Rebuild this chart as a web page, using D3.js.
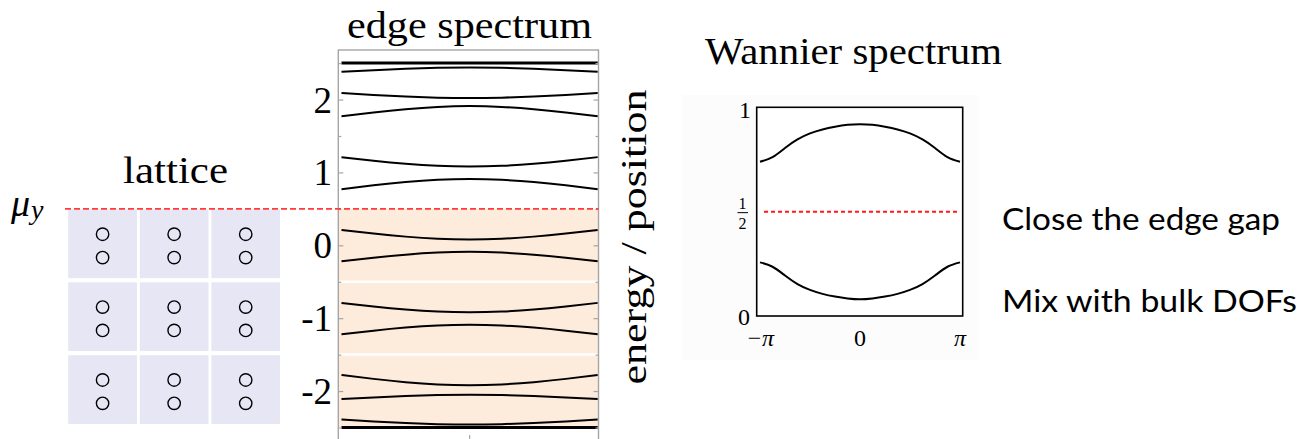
<!DOCTYPE html>
<html><head><meta charset="utf-8">
<script src="https://cdn.jsdelivr.net/npm/d3@7"></script>
<style>
html,body{margin:0;padding:0;background:#fff;}
svg{display:block;}
</style></head>
<body>
<svg id="chart" width="1301" height="439"></svg>
<script>
// ---------- data ----------
// momentum samples (k / pi) for edge spectrum
const kEdge = [-1, -0.75, -0.5, -0.25, 0, 0.25, 0.5, 0.75, 1];
const band1  = [2.50, 2.50, 2.50, 2.50, 2.50, 2.50, 2.50, 2.50, 2.50];
const band2  = [2.38, 2.403, 2.422, 2.435, 2.44, 2.435, 2.422, 2.403, 2.38];
const band3  = [2.09, 2.063, 2.041, 2.026, 2.02, 2.026, 2.041, 2.063, 2.09];
const band4  = [1.77, 1.823, 1.868, 1.899, 1.91, 1.899, 1.868, 1.823, 1.77];
const band5  = [1.21, 1.161, 1.119, 1.090, 1.08, 1.090, 1.119, 1.161, 1.21];
const band6  = [0.77, 0.823, 0.868, 0.899, 0.91, 0.899, 0.868, 0.823, 0.77];
const band7  = [0.21, 0.161, 0.119, 0.090, 0.08, 0.090, 0.119, 0.161, 0.21];
const band8  = [-0.22, -0.171, -0.129, -0.100, -0.09, -0.100, -0.129, -0.171, -0.22];
const band9  = [-0.79, -0.839, -0.881, -0.910, -0.92, -0.910, -0.881, -0.839, -0.79];
const band10 = [-1.22, -1.171, -1.129, -1.100, -1.09, -1.100, -1.129, -1.171, -1.22];
const band11 = [-1.78, -1.833, -1.878, -1.909, -1.92, -1.909, -1.878, -1.833, -1.78];
const band12 = [-2.11, -2.087, -2.068, -2.055, -2.05, -2.055, -2.068, -2.087, -2.11];
const band13 = [-2.39, -2.417, -2.439, -2.454, -2.46, -2.454, -2.439, -2.417, -2.39];
const band14 = [-2.50, -2.50, -2.50, -2.50, -2.50, -2.50, -2.50, -2.50, -2.50];
const edgeBands = [band1, band2, band3, band4, band5, band6, band7, band8, band9, band10, band11, band12, band13, band14];
const flatBands = [0, 13]; // indices drawn thicker
const edgeTickLabels = [2, 1, 0, -1, -2];
const muY = 0.5;               // chemical potential
const filledCells = [0, -1, -2]; // unit-cell centres below mu_y
const latticeCols = [0, 1, 2];
const orbitalOffsets = [0.16, -0.16];

// Wannier spectrum (k / pi)
const kWannier = [-1, -0.875, -0.75, -0.625, -0.5, -0.375, -0.25, -0.125, 0, 0.125, 0.25, 0.375, 0.5, 0.625, 0.75, 0.875, 1];
const wannierUpper = [0.739, 0.761, 0.805, 0.846, 0.875, 0.894, 0.907, 0.916, 0.919, 0.916, 0.907, 0.894, 0.875, 0.846, 0.805, 0.761, 0.739];
const wannierLower = [0.257, 0.236, 0.194, 0.153, 0.125, 0.106, 0.093, 0.084, 0.080, 0.084, 0.093, 0.106, 0.125, 0.153, 0.194, 0.236, 0.257];
const wannierXLabels = [{v: -1, t: "\u2212\u03c0"}, {v: 0, t: "0"}, {v: 1, t: "\u03c0"}];

const notes = ["Close the edge gap", "Mix with bulk DOFs"];

// ---------- drawing ----------
const svg = d3.select("#chart");
const serif = '"Liberation Serif","DejaVu Serif",serif';

// edge spectrum scales
const fL = 338.3, fR = 598.5, fT = 50;
const yE = d3.scaleLinear().domain([-2.68, 2.68]).range([440.6, fT]);
const xE = d3.scaleLinear().domain([-1, 1]).range([341.5, 597.8]);

// orange filled region
svg.append("rect").attr("x", fL).attr("y", yE(muY)).attr("width", fR - fL)
  .attr("height", yE(-2.5) - yE(muY)).attr("fill", "#fdebdb");
// white separators between unit cells
svg.selectAll("line.sep").data([-0.5, -1.5]).enter().append("line")
  .attr("x1", fL).attr("x2", fR).attr("y1", d => yE(d)).attr("y2", d => yE(d))
  .attr("stroke", "#fff").attr("stroke-width", 2.5);

// lattice
const xCell = d3.scaleBand().domain(latticeCols).range([66.8, 281.5]).paddingInner(0.04).paddingOuter(0.02);
const cellH = xCell.bandwidth();
const g = svg.append("g");
filledCells.forEach(c => {
  latticeCols.forEach(col => {
    const top = yE(c + 0.5) + 0.6;
    g.append("rect").attr("x", xCell(col)).attr("y", top).attr("width", xCell.bandwidth()).attr("height", cellH)
      .attr("fill", "#e6e6f5");
    orbitalOffsets.forEach(o => {
      g.append("circle").attr("cx", xCell(col) + xCell.bandwidth() / 2).attr("cy", yE(c + o) + 0.6)
        .attr("r", 6.2).attr("fill", "none").attr("stroke", "#000").attr("stroke-width", 1.4);
    });
  });
});

// bands
const lineE = d3.line().x((d, i) => xE(kEdge[i])).y(d => yE(d)).curve(d3.curveNatural);
svg.selectAll("path.band").data(edgeBands).enter().append("path")
  .attr("d", lineE).attr("fill", "none").attr("stroke", "#000")
  .attr("stroke-width", (d, i) => flatBands.includes(i) ? 3 : 2);

// frame
svg.append("rect").attr("x", fL).attr("y", fT).attr("width", fR - fL).attr("height", 460 - fT)
  .attr("fill", "none").attr("stroke", "#a5a5a5").attr("stroke-width", 1.4);

// ticks
const minor = yE.ticks(10).filter(v => !edgeTickLabels.includes(v));
function ticks(axisFn, x, values, size) {
  const ax = axisFn(yE).tickValues(values).tickSize(-size).tickFormat("");
  const gg = svg.append("g").attr("transform", `translate(${x},0)`).call(ax);
  gg.select(".domain").remove();
  gg.selectAll(".tick line").attr("stroke", "#a5a5a5").attr("stroke-width", 1.2);
}
ticks(d3.axisLeft, fL, edgeTickLabels, 5);
ticks(d3.axisLeft, fL, minor, 3);
ticks(d3.axisRight, fR, edgeTickLabels, 5);
ticks(d3.axisRight, fR, minor, 3);
// bottom centre tick
svg.append("line").attr("x1", xE(0)).attr("x2", xE(0)).attr("y1", 435).attr("y2", 440)
  .attr("stroke", "#a5a5a5").attr("stroke-width", 1.2);

// tick labels
svg.selectAll("text.yl").data(edgeTickLabels).enter().append("text")
  .attr("x", 332).attr("y", d => yE(d)).attr("dy", "0.35em")
  .attr("text-anchor", "end").attr("font-family", serif).attr("font-size", 37)
  .text(d => String(d));

// mu_y dashed line
svg.append("line").attr("x1", 65).attr("x2", fR).attr("y1", yE(muY)).attr("y2", yE(muY))
  .attr("stroke", "#ff3b3b").attr("stroke-width", 1.6).attr("stroke-dasharray", "6,3");
const mu = svg.append("text").attr("x", 11).attr("y", 216).attr("font-family", serif)
  .attr("font-style", "italic").attr("font-size", 38);
mu.append("tspan").text("\u03bc");
mu.append("tspan").attr("font-size", 28).attr("dy", 3).attr("dx", 1).text("y");

// titles
svg.append("text").attr("x", 469.5).attr("y", 38).attr("text-anchor", "middle")
  .attr("font-family", serif).attr("font-size", 37).attr("textLength", 245)
  .attr("lengthAdjust", "spacingAndGlyphs").text("edge spectrum");
svg.append("text").attr("x", 175.5).attr("y", 183).attr("text-anchor", "middle")
  .attr("font-family", serif).attr("font-size", 37).attr("textLength", 105)
  .attr("lengthAdjust", "spacingAndGlyphs").text("lattice");
svg.append("text").attr("transform", "translate(646,237) rotate(-90)").attr("text-anchor", "middle")
  .attr("font-family", serif).attr("font-size", 36).attr("textLength", 295)
  .attr("lengthAdjust", "spacingAndGlyphs").text("energy / position");
svg.append("text").attr("x", 853.5).attr("y", 64).attr("text-anchor", "middle")
  .attr("font-family", serif).attr("font-size", 37).attr("textLength", 297)
  .attr("lengthAdjust", "spacingAndGlyphs").text("Wannier spectrum");

// Wannier panel
svg.append("rect").attr("x", 682).attr("y", 95).attr("width", 296).attr("height", 265).attr("fill", "#fcfcfc");
const wL = 756.7, wR = 962.7;
const yW = d3.scaleLinear().domain([0, 1]).range([316, 107.3]);
const xW = d3.scaleLinear().domain([-1, 1]).range([760, 960]);
svg.append("rect").attr("x", wL).attr("y", yW(1)).attr("width", wR - wL).attr("height", yW(0) - yW(1))
  .attr("fill", "#fff").attr("stroke", "#000").attr("stroke-width", 1.6);
const lineW = d3.line().x((d, i) => xW(kWannier[i])).y(d => yW(d)).curve(d3.curveNatural);
svg.selectAll("path.wan").data([wannierUpper, wannierLower]).enter().append("path")
  .attr("d", lineW).attr("fill", "none").attr("stroke", "#000").attr("stroke-width", 2);
svg.append("line").attr("x1", 764).attr("x2", 958).attr("y1", yW(0.5)).attr("y2", yW(0.5))
  .attr("stroke", "#ff1a1a").attr("stroke-width", 2).attr("stroke-dasharray", "4,3");
// Wannier labels
svg.append("text").attr("x", 745).attr("y", yW(1) + 11).attr("text-anchor", "middle")
  .attr("font-family", serif).attr("font-size", 24).text("1");
svg.append("text").attr("x", 744).attr("y", yW(0) + 9).attr("text-anchor", "middle")
  .attr("font-family", serif).attr("font-size", 24).text("0");
svg.append("text").attr("x", 742.5).attr("y", yW(0.5) - 3).attr("text-anchor", "middle")
  .attr("font-family", serif).attr("font-size", 16).text("1");
svg.append("line").attr("x1", 737.5).attr("x2", 748).attr("y1", yW(0.5) + 1).attr("y2", yW(0.5) + 1)
  .attr("stroke", "#000").attr("stroke-width", 1);
svg.append("text").attr("x", 742.5).attr("y", yW(0.5) + 17).attr("text-anchor", "middle")
  .attr("font-family", serif).attr("font-size", 16).text("2");
svg.selectAll("text.wx").data(wannierXLabels).enter().append("text")
  .attr("x", d => xW(d.v)).attr("y", 346).attr("text-anchor", "middle")
  .attr("font-family", serif).attr("font-size", 24)
  .attr("font-style", d => d.v === 0 ? "normal" : "italic").text(d => d.t);

// notes
svg.selectAll("text.note").data(notes).enter().append("text")
  .attr("x", 1002).attr("y", (d, i) => i === 0 ? 230 : 312)
  .attr("font-family", "Lato, 'Open Sans', sans-serif").attr("font-size", 31)
  .attr("textLength", (d, i) => i === 0 ? 278 : 295).attr("lengthAdjust", "spacingAndGlyphs")
  .text(d => d);
</script>
</body></html>
